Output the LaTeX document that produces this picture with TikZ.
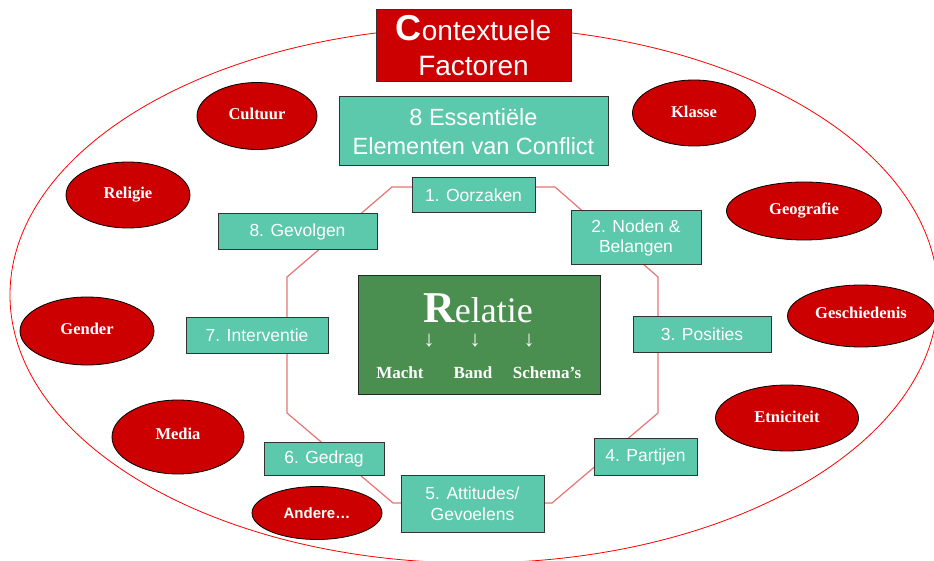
\documentclass[tikz,border=0pt]{standalone}
\usepackage{fontspec}
\setmainfont{Liberation Sans}
\newfontfamily\serif{Liberation Serif}
\usetikzlibrary{shapes.geometric}
\definecolor{teal1}{HTML}{5CC8AC}
\definecolor{red1}{HTML}{CC0000}
\definecolor{green1}{HTML}{4A8F4F}
\definecolor{octo}{HTML}{E87474}
\begin{document}
\begin{tikzpicture}[x=1pt,y=-1pt,
  tbox/.style={draw=black!80, line width=1pt, fill=teal1, text=white, align=center, inner sep=0pt, font=\fontsize{17.5}{20.5}\selectfont},
  ctx/.style={ellipse, draw=black, line width=0.8pt, fill=red1, text=white, inner sep=0pt, font=\serif\bfseries\fontsize{16.5}{18}\selectfont},
  rtext/.style={text=white, inner sep=0pt, font=\serif\bfseries\fontsize{17}{20}\selectfont}]
\useasboundingbox (0,0) rectangle (934,561);
% outer ellipse
\draw[red, line width=0.8pt] (474,295) ellipse [x radius=464, y radius=268];
% octagon
\coordinate (o1) at (392,187);
\coordinate (o2) at (555,187);
\coordinate (o3) at (658,277);
\coordinate (o4) at (658,413);
\coordinate (o5) at (552,503);
\coordinate (o6) at (393,503);
\coordinate (o7) at (287,413);
\coordinate (o8) at (287,277);
\draw[octo, line width=1.2pt] (o1) -- (o2) -- (o3) -- (o4) -- (o5) -- (o6) -- (o7) -- (o8) -- cycle;
% title
\node[draw=black!80, line width=1pt, fill=red1, text=white, align=center, inner sep=0pt,
  minimum width=195pt, minimum height=72pt, font=\fontsize{28}{35}\selectfont] (title) at (473.5,46)
  {{\fontsize{36}{35}\selectfont\bfseries C}ontextuele\\Factoren};
\node[tbox, minimum width=269pt, minimum height=69pt, font=\fontsize{23.5}{28.5}\selectfont] (ess) at (473.5,131.5)
  {8 Essentiële\\Elementen van Conflict};
% steps
\node[tbox, minimum width=123pt, minimum height=35pt] (n1) at (473.5,195.5) {1. Oorzaken};
\node[tbox, minimum width=130pt, minimum height=54pt] (n2) at (636,238) {2. Noden \&\\Belangen};
\node[tbox, minimum width=138pt, minimum height=36pt] (n3) at (702,334) {3. Posities};
\node[tbox, minimum width=103pt, minimum height=37pt] (n4) at (645.5,456.5) {4. Partijen};
\node[tbox, minimum width=143pt, minimum height=57pt] (n5) at (472.5,503.5) {5. Attitudes/\\Gevoelens};
\node[tbox, minimum width=120pt, minimum height=33pt] (n6) at (324,458.5) {6. Gedrag};
\node[tbox, minimum width=142pt, minimum height=36pt] (n7) at (257,335) {7. Interventie};
\node[tbox, minimum width=159pt, minimum height=36pt] (n8) at (297.5,232) {8. Gevolgen};
% relatie
\node[draw=black!85, line width=1pt, fill=green1, minimum width=242pt, minimum height=118pt, inner sep=0pt] (rel) at (479,335) {};
\node[text=white, inner sep=0pt, font=\serif\fontsize{36}{36}\selectfont] (reltxt) at (478,308)
  {{\fontsize{44}{36}\selectfont\bfseries R}elatie};
\node[rtext, font=\serif\bfseries\fontsize{22}{22}\selectfont] (a1) at (429,341) {↓};
\node[rtext, font=\serif\bfseries\fontsize{22}{22}\selectfont] (a2) at (475,341) {↓};
\node[rtext, font=\serif\bfseries\fontsize{22}{22}\selectfont] (a3) at (529,341) {↓};
\node[rtext] (macht) at (400,373) {Macht};
\node[rtext] (band) at (473,373) {Band};
\node[rtext] (schema) at (547,373) {Schema’s};
% context factors
\node[ctx, minimum width=120pt, minimum height=67pt] (cult) at (257,116) {\raisebox{5pt}{Cultuur}};
\node[ctx, minimum width=124pt, minimum height=66pt] (reli) at (128,195) {\raisebox{5pt}{Religie}};
\node[ctx, minimum width=123pt, minimum height=66pt] (klas) at (694,113) {\raisebox{3pt}{Klasse}};
\node[ctx, minimum width=155pt, minimum height=58pt] (geo) at (804,211) {\raisebox{4pt}{Geografie}};
\node[ctx, minimum width=147pt, minimum height=62pt] (gesch) at (861,316) {\raisebox{6pt}{Geschiedenis}};
\node[ctx, minimum width=134pt, minimum height=68pt] (gend) at (87,331) {\raisebox{5pt}{Gender}};
\node[ctx, minimum width=143pt, minimum height=66pt] (etn) at (787,418) {\raisebox{3pt}{Etniciteit}};
\node[ctx, minimum width=132pt, minimum height=74pt] (med) at (178,437) {\raisebox{6pt}{Media}};
\node[ctx, minimum width=130pt, minimum height=53pt, font=\bfseries\fontsize{15}{18}\selectfont] (and) at (317,513) {Andere…};
\end{tikzpicture}
\end{document}
